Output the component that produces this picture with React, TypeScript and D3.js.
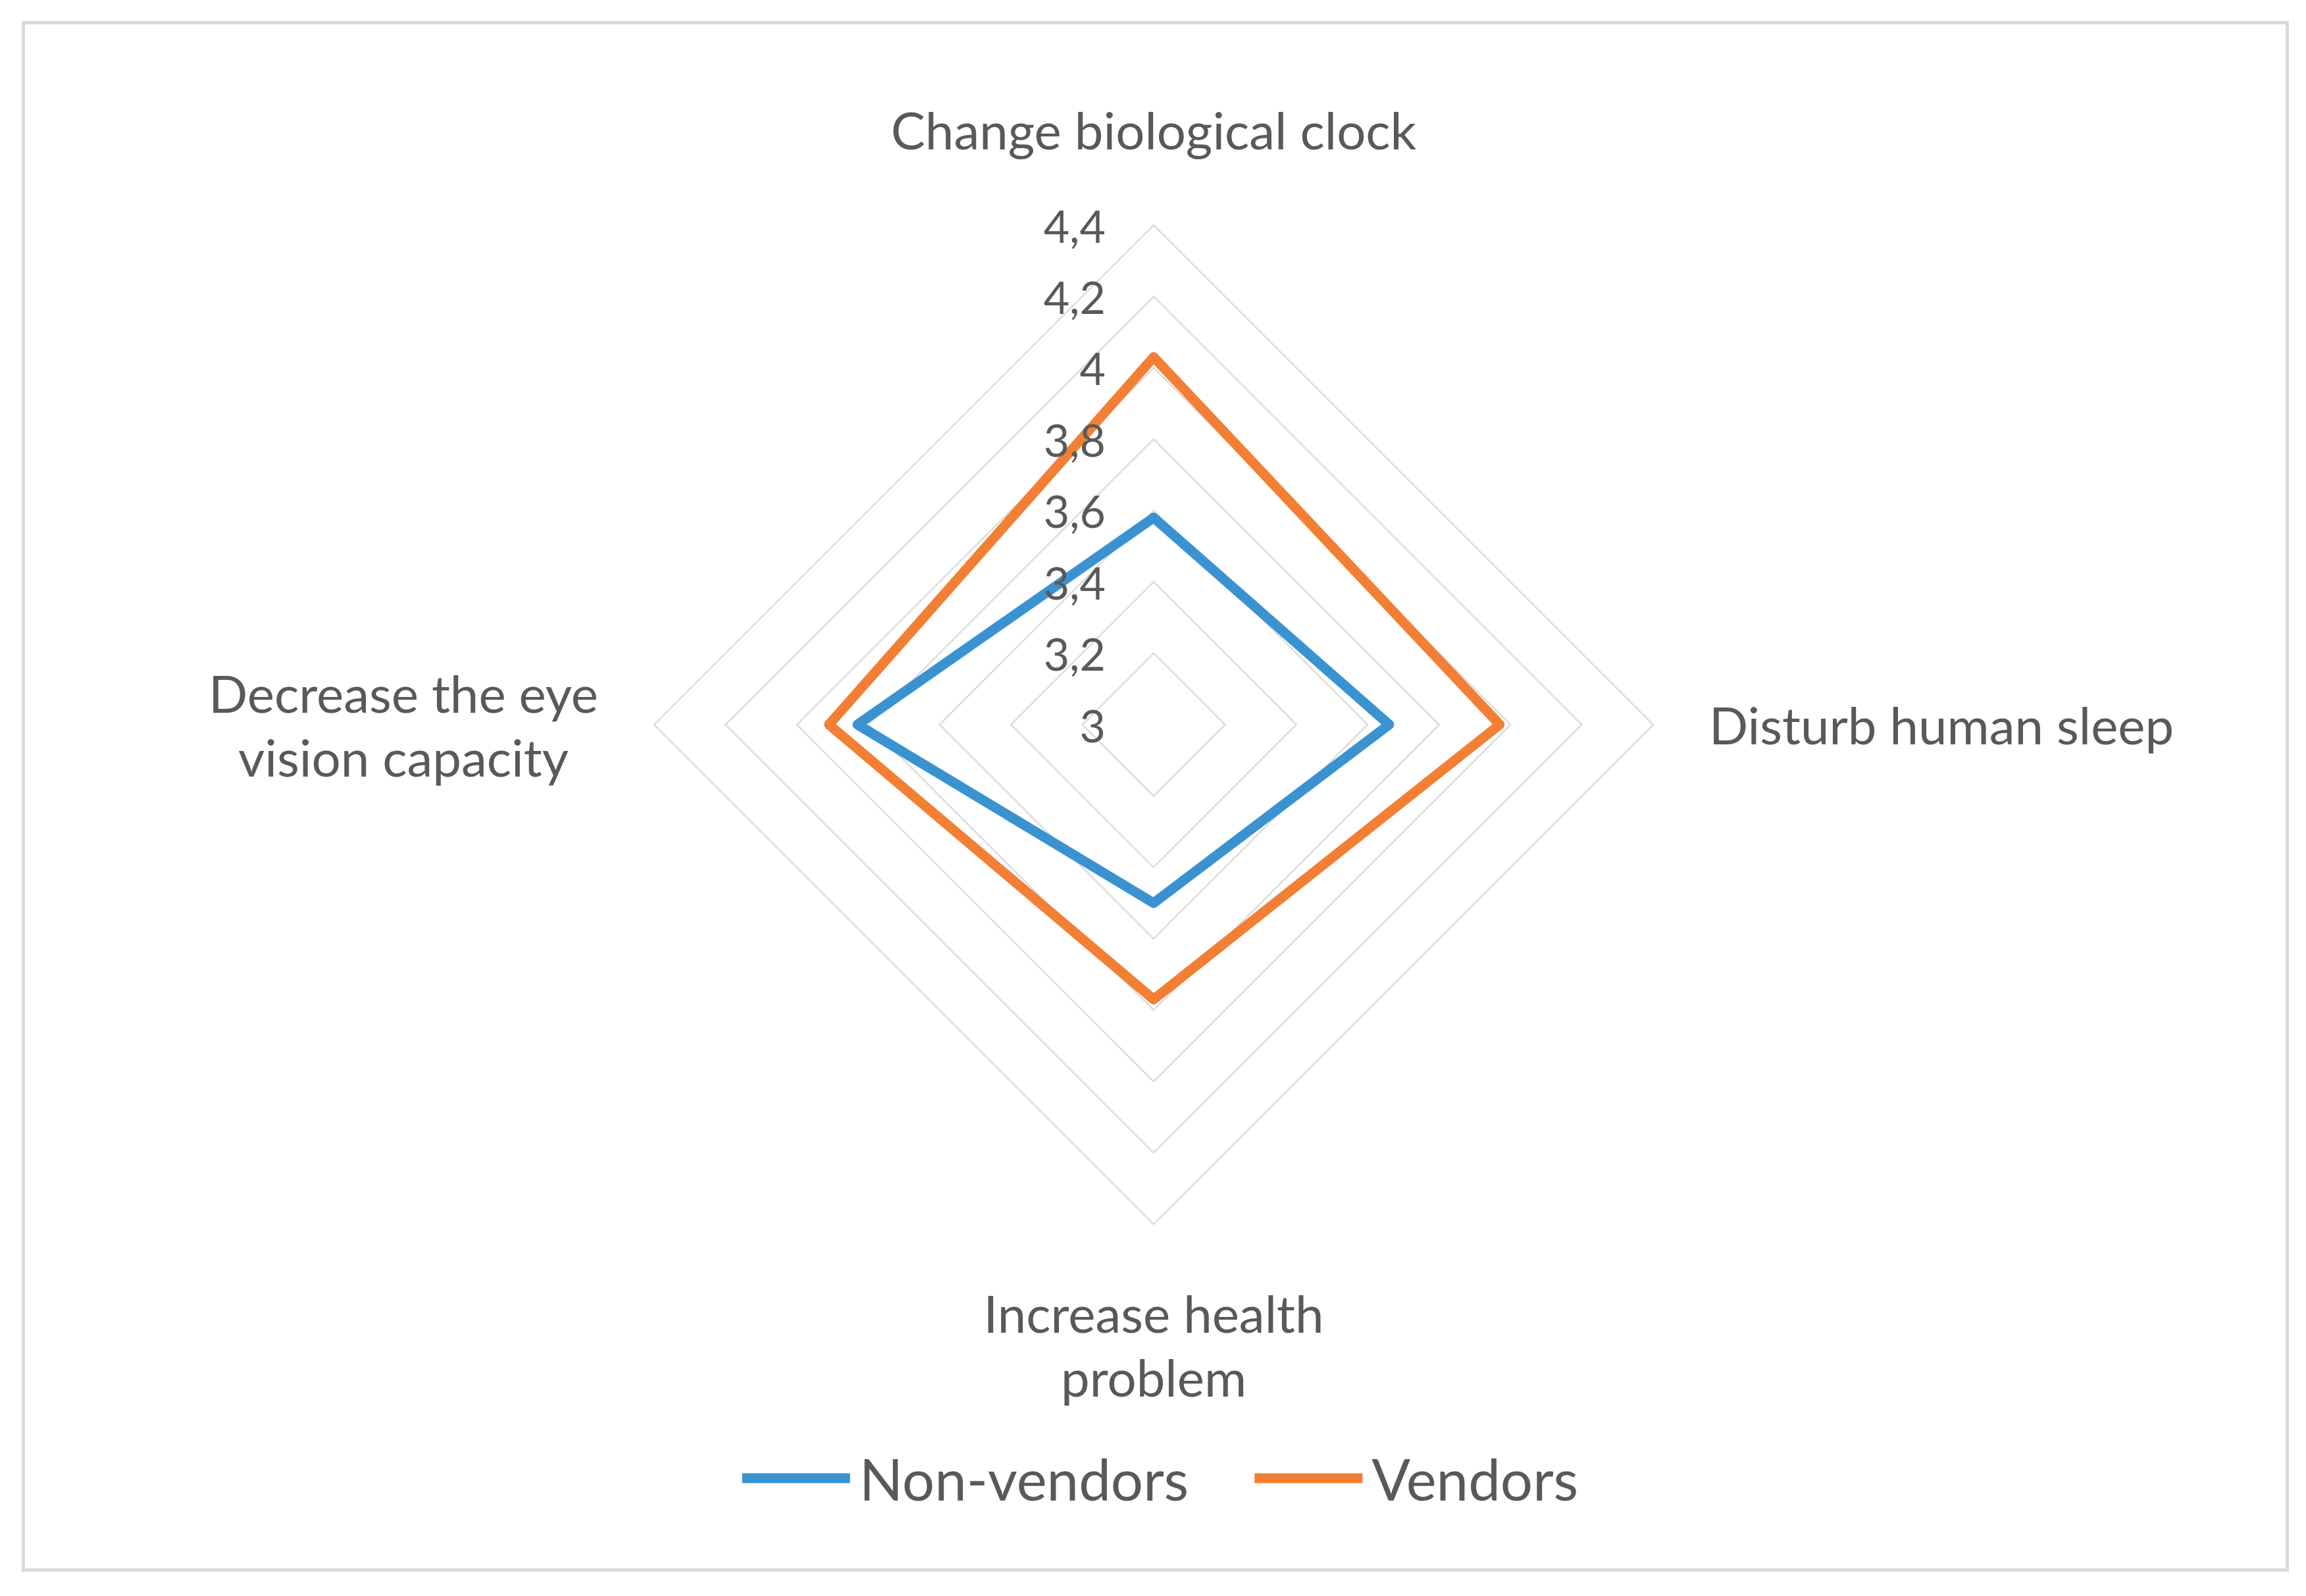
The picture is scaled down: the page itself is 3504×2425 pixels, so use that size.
import { useRef, useEffect } from "react";
import * as d3 from "d3";

// categories, clockwise from the top
const categories = [
  ["Change biological clock"],
  ["Disturb human sleep"],
  ["Increase health", "problem"],
  ["Decrease the eye", "vision capacity"],
];
const nonVendors = [3.58, 3.66, 3.5, 3.83];
const vendors = [4.03, 3.97, 3.77, 3.91];
const seriesNames = ["Non-vendors", "Vendors"];
const tickValues = [3, 3.2, 3.4, 3.6, 3.8, 4, 4.2, 4.4];

const App = () => {
  const svgRef = useRef<SVGSVGElement>(null);

  useEffect(() => {
    document.body.style.margin = "0";
    draw();
  }, []);

  const draw = () => {
    const width = 3504;
    const height = 2425;
    const cx = 1753;
    const cy = 1101;
    const R = 759;
    const textColor = "#595959";
    const colors = ["#3a93d0", "#f37f35"];
    const font = "Lato, 'Open Sans', sans-serif";

    const svg = d3
      .select(svgRef.current)
      .attr("width", width)
      .attr("height", height)
      .style("font-family", font);
    svg.selectAll("*").remove();

    svg
      .append("rect")
      .attr("width", width)
      .attr("height", height)
      .attr("fill", "#fff");

    // rammi
    svg
      .append("rect")
      .attr("x", 35.5)
      .attr("y", 34.5)
      .attr("width", 3440)
      .attr("height", 2351)
      .attr("fill", "none")
      .attr("stroke", "#d9d9d9")
      .attr("stroke-width", 5);

    const r = d3.scaleLinear().domain([3, 4.4]).range([0, R]);
    const angle = d3
      .scaleLinear()
      .domain([0, categories.length])
      .range([0, 2 * Math.PI]);

    const g = svg.append("g").attr("transform", `translate(${cx},${cy})`);

    // verkko
    const ringLine = d3
      .lineRadial<number>()
      .angle((_, i) => angle(i))
      .radius((d) => r(d))
      .curve(d3.curveLinearClosed);

    g.append("g")
      .selectAll("path")
      .data(tickValues.filter((t) => t > 3))
      .join("path")
      .attr("d", (t) => ringLine(categories.map(() => t)))
      .attr("fill", "none")
      .attr("stroke", "#dcdcdc")
      .attr("stroke-width", 2.5);

    // sarjat
    const seriesLine = d3
      .lineRadial<number>()
      .angle((_, i) => angle(i))
      .radius((d) => r(d))
      .curve(d3.curveLinearClosed);

    [nonVendors, vendors].forEach((values, si) => {
      g.append("path")
        .attr("d", seriesLine(values))
        .attr("fill", "none")
        .attr("stroke", colors[si])
        .attr("stroke-width", 15)
        .attr("stroke-linejoin", "round");
    });

    // arvoakselin tekstit
    g.append("g")
      .selectAll("text")
      .data(tickValues)
      .join("text")
      .attr("x", -73)
      .attr("y", (t) => -r(t))
      .attr("text-anchor", "end")
      .attr("dominant-baseline", "central")
      .attr("fill", textColor)
      .style("font-size", "68px")
      .text((t) => d3.format(".1~f")(t).replace(".", ","));

    // kategorioiden tekstit
    const labelSize = 78;
    const lineH = 97;
    const gap = [98, 85, 88, 85];
    categories.forEach((lines, i) => {
      const a = angle(i);
      const sx = Math.sin(a);
      const sy = -Math.cos(a);
      const t = g
        .append("text")
        .attr("fill", textColor)
        .attr("text-anchor", "middle")
        .style("font-size", `${labelSize}px`);
      lines.forEach((line, li) => {
        t.append("tspan").attr("x", 0).attr("dy", li === 0 ? 0 : lineH).text(line);
      });
      const bb = (t.node() as SVGTextElement).getBBox();
      const w = bb.width;
      const h = bb.height;
      const ax = sx * (R + gap[i]) + sx * (w / 2);
      // ankkuroidaan tekstilaatikon keskikohta
      const boxCy = sy * (R + gap[i]) + sy * (h / 2);
      const dy = boxCy - (bb.y + h / 2);
      t.attr("transform", `translate(${ax},${dy})`);
    });

    // selite
    const legendY = 2246;
    const legend = svg.append("g");
    let x = 0;
    seriesNames.forEach((name, i) => {
      legend
        .append("line")
        .attr("x1", x)
        .attr("x2", x + 164)
        .attr("y1", legendY)
        .attr("y2", legendY)
        .attr("stroke", colors[i])
        .attr("stroke-width", 15);
      const t = legend
        .append("text")
        .attr("x", x + 178)
        .attr("y", legendY)
        .attr("dominant-baseline", "central")
        .attr("fill", textColor)
        .style("font-size", "87px")
        .text(name);
      x += 178 + (t.node() as SVGTextElement).getComputedTextLength() + 100;
    });
    const lw = x - 100;
    legend.attr("transform", `translate(${1763 - lw / 2},0)`);
  };

  return <svg ref={svgRef} style={{ display: "block" }}></svg>;
};

export default App;
